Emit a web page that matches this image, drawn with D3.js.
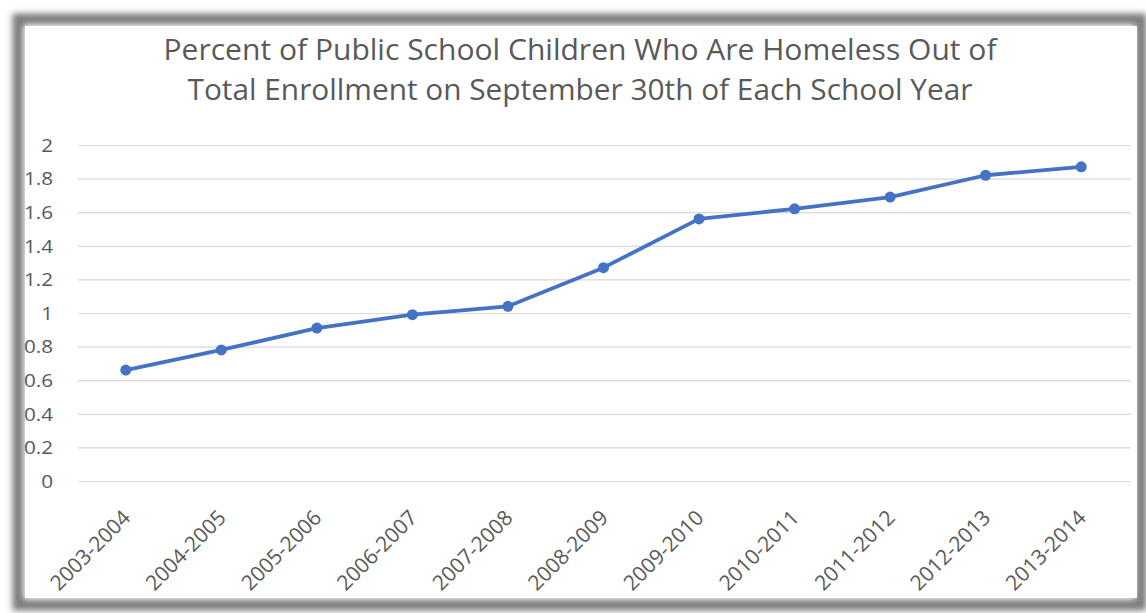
<!DOCTYPE html>
<html><head><meta charset="utf-8">
<script src="https://cdn.jsdelivr.net/npm/d3@7"></script>
<style>html,body{margin:0;padding:0;background:#fff;}svg{display:block;}</style>
</head><body>
<svg id="chart" width="1146" height="613"></svg>
<script>
const categories = ["2003-2004","2004-2005","2005-2006","2006-2007","2007-2008","2008-2009","2009-2010","2010-2011","2011-2012","2012-2013","2013-2014"];
const values = [0.66, 0.78, 0.91, 0.99, 1.04, 1.27, 1.56, 1.62, 1.69, 1.82, 1.87];
const yTicks = [0, 0.2, 0.4, 0.6, 0.8, 1, 1.2, 1.4, 1.6, 1.8, 2];
const titleLines = ["Percent of Public School Children Who Are Homeless Out of", "Total Enrollment on September 30th of Each School Year"];

const svg = d3.select("#chart");
const font = "'Open Sans', sans-serif";
const textColor = "#595959";

// frame with blurred shadow border
const defs = svg.append("defs");
defs.append("filter").attr("id","blur").attr("x","-5%").attr("y","-5%").attr("width","110%").attr("height","110%")
  .append("feGaussianBlur").attr("stdDeviation", 3);
svg.append("rect").attr("x",18).attr("y",19).attr("width",1123).attr("height",586)
  .attr("fill","none").attr("stroke","#7a7a7a").attr("stroke-width",11).attr("filter","url(#blur)");
svg.append("rect").attr("x",25).attr("y",26).attr("width",1112).attr("height",572).attr("fill","#fff");

const x = d3.scaleBand().domain(categories).range([78, 1129]);
const y = d3.scaleLinear().domain([0, 2]).range([481, 145]);

// gridlines
const yAxis = d3.axisLeft(y).tickValues(yTicks).tickSize(-(1131 - 78)).tickFormat(d3.format("~g")).tickPadding(0);
const gy = svg.append("g").attr("transform","translate(78,0)").call(yAxis);
gy.select(".domain").remove();
gy.selectAll(".tick line").attr("stroke","#d9d9d9").attr("stroke-width",1.2);
gy.selectAll(".tick text").remove();
gy.selectAll(".tick").append("text")
  .attr("transform","translate(-25,0) scale(1.15,1)")
  .attr("text-anchor","end").attr("dy","0.35em")
  .attr("font-family",font).attr("font-size",18).attr("fill",textColor)
  .text(d => d3.format("~g")(d));

// x axis labels
const xAxis = d3.axisBottom(x).tickSize(0).tickPadding(0);
const gx = svg.append("g").attr("transform","translate(0,481)").call(xAxis);
gx.select(".domain").remove();
gx.selectAll(".tick text").remove();
gx.selectAll(".tick").append("text")
  .attr("transform","translate(6,38) rotate(-45)")
  .attr("text-anchor","end")
  .attr("font-family",font).attr("font-size",21).attr("fill",textColor)
  .text(d => d);

// line
const data = categories.map((c,i) => ({c, v: values[i]}));
const cx = d => x(d.c) + x.bandwidth()/2;
svg.append("path").datum(data)
  .attr("fill","none").attr("stroke","#4472c4").attr("stroke-width",3.8).attr("stroke-linejoin","round")
  .attr("d", d3.line().x(cx).y(d => y(d.v)));
svg.selectAll("circle.pt").data(data).enter().append("circle").attr("class","pt")
  .attr("cx",cx).attr("cy",d => y(d.v)).attr("r",5.5).attr("fill","#4472c4");

// title
const titleWidths = [833, 785];
const titleBase = [60, 100];
titleLines.forEach((t,i) => {
  svg.append("text").attr("x",580).attr("y",titleBase[i]).attr("text-anchor","middle")
    .attr("font-family",font).attr("font-size",30).attr("fill",textColor)
    .attr("textLength",titleWidths[i]).attr("lengthAdjust","spacingAndGlyphs")
    .text(t);
});
</script>
</body></html>
